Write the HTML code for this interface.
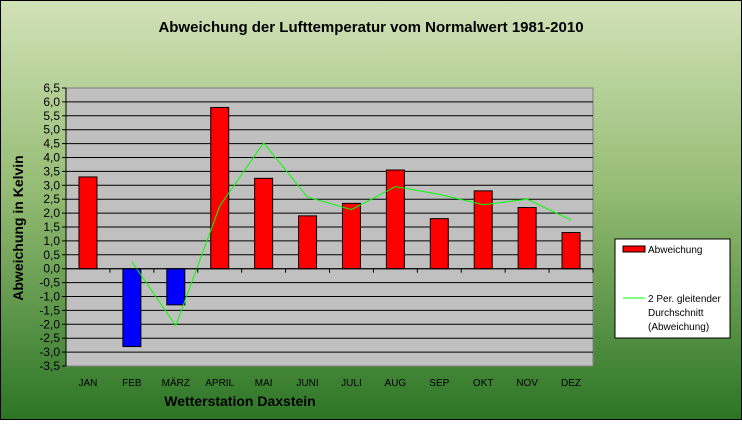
<!DOCTYPE html>
<html><head><meta charset="utf-8"><style>
body{margin:0;width:742px;height:420px;overflow:hidden;font-family:"Liberation Sans",sans-serif}
</style></head><body>
<svg width="742" height="420" xmlns="http://www.w3.org/2000/svg" font-family="Liberation Sans, sans-serif">
<defs><linearGradient id="bg" x1="0" y1="0" x2="0" y2="1">
<stop offset="0" stop-color="#d2e2b8"/><stop offset="0.45" stop-color="#95bc74"/><stop offset="1" stop-color="#2c7526"/></linearGradient></defs>
<rect x="0.5" y="0.5" width="741" height="419" fill="url(#bg)" stroke="#000"/>
<text x="371" y="32" text-anchor="middle" font-weight="bold" font-size="15">Abweichung der Lufttemperatur vom Normalwert 1981-2010</text>
<rect x="66" y="88" width="527" height="278" fill="#c0c0c0" stroke="#808080"/>
<g id="grid"></g><g id="bars"></g><g id="axes"></g>
<text x="240" y="406" text-anchor="middle" font-weight="bold" font-size="14">Wetterstation Daxstein</text>
<text transform="translate(23,228) rotate(-90)" text-anchor="middle" font-weight="bold" font-size="14">Abweichung in Kelvin</text>
<g>
<rect x="615" y="239" width="115" height="99" fill="#fff" stroke="#000"/>
<rect x="623" y="246" width="22" height="6" fill="#f00" stroke="#000"/>
<text x="648" y="253" font-size="10">Abweichung</text>
<line x1="623" y1="298" x2="645" y2="298" stroke="#00ff00"/>
<text x="648" y="302" font-size="10">2 Per. gleitender</text>
<text x="648" y="316" font-size="10">Durchschnitt</text>
<text x="648" y="330" font-size="10">(Abweichung)</text>
</g>
</svg>
<script>
const categories=["JAN","FEB","MÄRZ","APRIL","MAI","JUNI","JULI","AUG","SEP","OKT","NOV","DEZ"];
const values=[3.3,-2.8,-1.3,5.8,3.25,1.9,2.35,3.55,1.8,2.8,2.2,1.3];
const yTicks=[6.5,6,5.5,5,4.5,4,3.5,3,2.5,2,1.5,1,0.5,0,-0.5,-1,-1.5,-2,-2.5,-3,-3.5];
const NS="http://www.w3.org/2000/svg";
const X0=66,X1=593,Y0=88,Y1=366,ymin=-3.5,ymax=6.5;
const y=v=>Y1-(v-ymin)/(ymax-ymin)*(Y1-Y0);
const cw=(X1-X0)/categories.length;
const xc=i=>X0+cw*(i+0.5);
function mk(t,a,p){const e=document.createElementNS(NS,t);for(const k in a)e.setAttribute(k,a[k]);p.appendChild(e);return e;}
const grid=document.getElementById('grid'),bars=document.getElementById('bars'),axes=document.getElementById('axes');
yTicks.forEach(v=>{
 if(v!==ymin&&v!==ymax){const l=mk('line',{x1:X0,x2:X1,y1:y(v),y2:y(v),stroke:'#000'},grid);
 
 }
 mk('line',{x1:X0-4,x2:X0,y1:y(v),y2:y(v),stroke:'#000'},axes);
 const t=mk('text',{x:X0-6,y:y(v)+4,'text-anchor':'end','font-size':12},axes);
 t.textContent=v.toFixed(1).replace('.',',');
 
 
});
mk('line',{x1:X0,x2:X0,y1:Y0,y2:Y1,stroke:'#000'},axes);
mk('line',{x1:X0,x2:X1,y1:y(0),y2:y(0),stroke:'#000'},axes);
categories.forEach((c,i)=>{
 mk('line',{x1:X0+cw*(i+1),x2:X0+cw*(i+1),y1:y(0),y2:y(0)+4,stroke:'#000'},axes);
 const v=values[i];
 const r=mk('rect',{x:xc(i)-9,y:Math.min(y(v),y(0)),width:18,height:Math.abs(y(v)-y(0)),fill:v<0?'#0000ff':'#ff0000',stroke:'#000'},bars);
 
 
 const t=mk('text',{x:xc(i),y:386,'text-anchor':'middle','font-size':10},axes);
 t.textContent=c;
 
 
});
let pts=[];
for(let i=1;i<values.length;i++)pts.push(xc(i)+','+y((values[i]+values[i-1])/2));
const pl=mk('polyline',{points:pts.join(' '),fill:'none',stroke:'#00ff00','stroke-width':1},bars);


</script>
</body></html>
